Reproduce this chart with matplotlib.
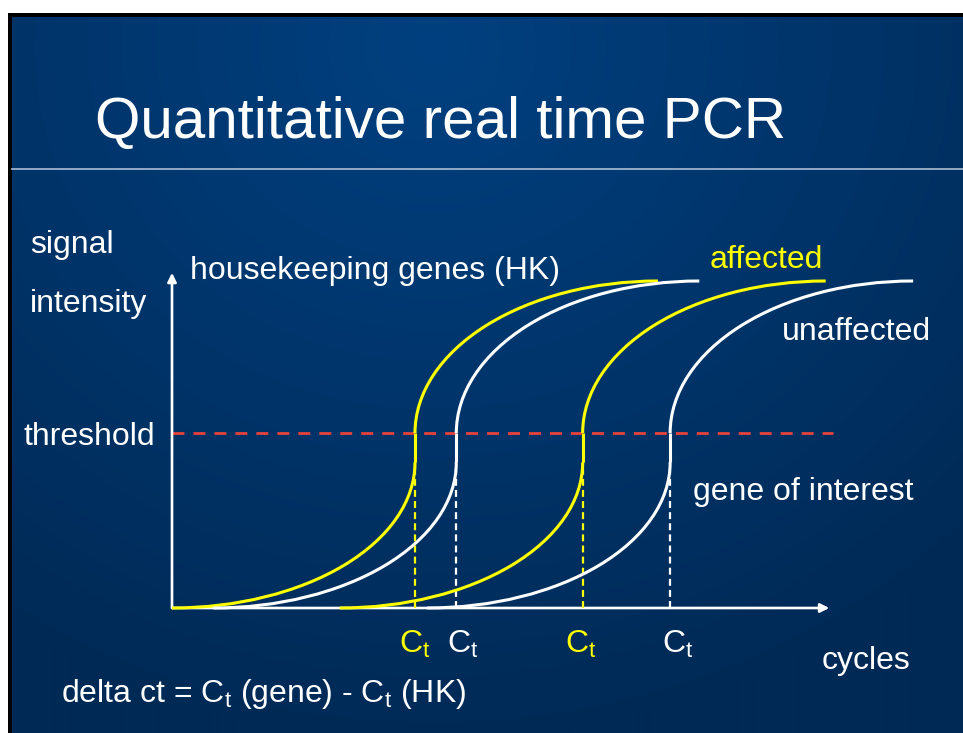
import numpy as np
import matplotlib
matplotlib.use('Agg')
import matplotlib.pyplot as plt
from matplotlib.patches import Arc, Rectangle

plt.rcParams['font.family'] = ['Liberation Sans', 'DejaVu Sans']
plt.rcParams['mathtext.default'] = 'regular'
plt.rcParams['lines.scale_dashes'] = False

# chart data (cycles on x, relative signal on y)
ct_values = [10.0, 11.7, 16.9, 20.5]          # HK affected, HK unaffected, gene affected, gene unaffected
curve_colors = ['#ffff00', 'white', '#ffff00', 'white']
ramp_cycles = 10.0                              # width of each arc in cycles
plateau = 1.0
threshold = 0.535
knee = 0.445                                    # where the lower arc turns vertical
threshold_end = 27.2
x_axis_end = 27.05
y_axis_end = 1.025

W, H = 963, 733
fig = plt.figure(figsize=(W / 100, H / 100), dpi=100, facecolor='white')

# slide frame and background
frame = Rectangle((8 / W, 0), 1, 1 - 13 / H, transform=fig.transFigure,
                  facecolor='black', edgecolor='none', zorder=-10)
fig.add_artist(frame)
bg = fig.add_axes([12 / W, 0, 1 - 12 / W, 1 - 17 / H], zorder=-5)
bg.set_axis_off()
yy, xx = np.mgrid[0:716, 0:951]
dist = np.hypot((xx - 420) / 1.0, (yy - 30) * 1.1)
t = np.clip(dist / 760, 0, 1)
c0 = np.array([0, 64, 128]) / 255
c1 = np.array([0, 42, 86]) / 255
img = c0[None, None, :] * (1 - t[..., None]) + c1[None, None, :] * t[..., None]
bg.imshow(img, aspect='auto', extent=[0, 1, 0, 1], interpolation='bilinear')
bg.set_xlim(0, 1)
bg.set_ylim(0, 1)

# main axes: origin at pixel (172, 608)
ax = fig.add_axes([0, 0, 1, 1], zorder=1)
ax.set_axis_off()
px_per_cycle = 24.3
px_per_signal = 327.0
ax.set_xlim(-172 / px_per_cycle, (W - 172) / px_per_cycle)
ax.set_ylim(-(H - 608) / px_per_signal, 608 / px_per_signal)

# title and rule under it
fig.text(95 / W, 1 - 138 / H, 'Quantitative real time PCR', color='white',
         fontsize=42, va='baseline', ha='left', zorder=5)
fig.add_artist(plt.Line2D([12 / W, 1], [1 - 169 / H, 1 - 169 / H], color='#9fb3cc', lw=1.3, zorder=5))

# axes with arrows
arrow = dict(arrowstyle='-|>', color='white', lw=1.9, mutation_scale=13, shrinkA=0, shrinkB=0)
ax.annotate('', xy=(x_axis_end, 0), xytext=(0, 0), arrowprops=arrow, zorder=3)
ax.annotate('', xy=(0, y_axis_end), xytext=(0, 0), arrowprops=arrow, zorder=3)

# threshold
ax.plot([0, threshold_end], [threshold, threshold], color='#e8423c', lw=2.0,
        dashes=(8.6, 6.5), zorder=2)

# amplification curves
for ct, col in zip(ct_values, curve_colors):
    ax.add_patch(Arc((ct - ramp_cycles, knee), 2 * ramp_cycles, 2 * knee,
                     theta1=270, theta2=360, color=col, lw=2.2, zorder=4))
    ax.plot([ct, ct], [knee, threshold], color=col, lw=2.2, zorder=4, solid_capstyle='butt')
    ax.add_patch(Arc((ct + ramp_cycles, threshold), 2 * ramp_cycles, 2 * (plateau - threshold),
                     theta1=90, theta2=180, color=col, lw=2.2, zorder=4))
    ax.plot([ct, ct], [0, knee], color=col, lw=1.6, dashes=(5, 3), zorder=3)

# labels
fs = 23
labels = [
    (30, 253, 'signal', 'white'),
    (30, 312, 'intensity', 'white'),
    (190, 279, 'housekeeping genes (HK)', 'white'),
    (710, 268, 'affected', '#ffff00'),
    (782, 340, 'unaffected', 'white'),
    (23, 445, 'threshold', 'white'),
    (693, 500, 'gene of interest', 'white'),
    (822, 669, 'cycles', 'white'),
    (61, 702, r'delta ct = $C_t$ (gene) - $C_t$ (HK)', 'white'),
]
for x, y, s, col in labels:
    fig.text(x / W, 1 - y / H, s, color=col, fontsize=fs, va='baseline', ha='left', zorder=5)

ct_label_x = [399, 447, 565, 662]
for x, col in zip(ct_label_x, curve_colors):
    fig.text(x / W, 1 - 653 / H, r'$C_t$', color=col, fontsize=fs, va='baseline', ha='left', zorder=5)

fig.savefig('out.png', dpi=100, facecolor=fig.get_facecolor())
